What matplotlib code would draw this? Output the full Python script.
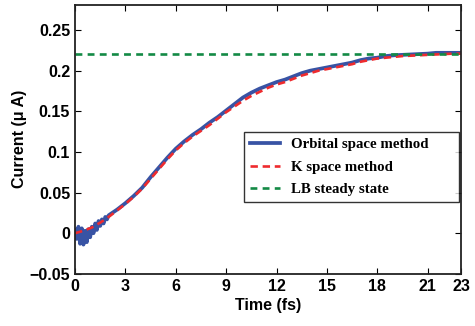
import numpy as np
import matplotlib
matplotlib.use('Agg')
import matplotlib.pyplot as plt

# orbital space method (noisy at the start)
t_orb = [0.0, 0.1, 0.2, 0.3, 0.4, 0.5, 0.6, 0.7, 0.8, 0.9,
         1.0, 1.1, 1.2, 1.3, 1.4, 1.5, 1.6, 1.7, 1.8, 1.9,
         2.0, 2.5, 3.0, 3.5, 4.0, 4.5, 5.0, 5.5, 6.0, 6.5,
         7.0, 7.5, 8.0, 8.5, 9.0, 9.5, 10.0, 10.5, 11.0, 11.5,
         12.0, 12.5, 13.0, 13.5, 14.0, 14.5, 15.0, 15.5, 16.0, 16.5,
         17.0, 17.5, 18.0, 18.5, 19.0, 19.5, 20.0, 20.5, 21.0, 21.5,
         22.0, 22.5, 23.0]
i_orb = [0.004, -0.007, 0.008, -0.013, 0.006, -0.014, 0.003, -0.011, 0.005, -0.005,
         0.008, 0.000, 0.012, 0.004, 0.015, 0.009, 0.017, 0.012, 0.020, 0.017,
         0.022, 0.029, 0.037, 0.046, 0.056, 0.069, 0.081, 0.093, 0.104, 0.113,
         0.121, 0.128, 0.136, 0.143, 0.151, 0.159, 0.167, 0.173, 0.178, 0.182,
         0.186, 0.189, 0.193, 0.197, 0.200, 0.202, 0.204, 0.206, 0.208, 0.210,
         0.213, 0.215, 0.216, 0.218, 0.219, 0.2195, 0.220, 0.2205, 0.221, 0.222,
         0.222, 0.222, 0.222]

# K space method
t_k = [0.0, 0.5, 1.0, 1.5, 2.0, 2.5, 3.0, 3.5, 4.0, 4.5,
       5.0, 5.5, 6.0, 6.5, 7.0, 7.5, 8.0, 8.5, 9.0, 9.5,
       10.0, 10.5, 11.0, 11.5, 12.0, 12.5, 13.0, 13.5, 14.0, 14.5,
       15.0, 15.5, 16.0, 16.5, 17.0, 17.5, 18.0, 18.5, 19.0, 19.5,
       20.0, 20.5, 21.0, 21.5, 22.0, 22.5, 23.0]
i_k = [0.000, 0.003, 0.007, 0.013, 0.020, 0.028, 0.036, 0.045, 0.055, 0.067,
       0.079, 0.091, 0.102, 0.111, 0.119, 0.126, 0.133, 0.141, 0.149, 0.156,
       0.163, 0.169, 0.174, 0.179, 0.183, 0.186, 0.190, 0.194, 0.197, 0.200,
       0.202, 0.204, 0.206, 0.208, 0.211, 0.213, 0.215, 0.216, 0.217, 0.218,
       0.2185, 0.219, 0.2195, 0.220, 0.2205, 0.221, 0.221]

lb_steady = 0.22

xticks = [0, 3, 6, 9, 12, 15, 18, 21, 23]
yticks = [-0.05, 0, 0.05, 0.1, 0.15, 0.2, 0.25]
ytick_labels = ['\u22120.05', '0', '0.05', '0.1', '0.15', '0.2', '0.25']

plt.rcParams['font.family'] = 'Liberation Sans'
plt.rcParams['font.weight'] = 'bold'

fig = plt.figure(figsize=(4.75, 3.26), dpi=100)
ax = fig.add_axes([0.158, 0.16, 0.813, 0.825])

l1, = ax.plot(t_orb, i_orb, color='#3853a4', lw=2.7, label='Orbital space method')
l2, = ax.plot(t_k, i_k, color='#ee2b2e', lw=1.9, ls=(0, (2.8, 1.8)), label='K space method')
l3 = ax.axhline(lb_steady, color='#138a45', lw=1.9, ls=(0, (2.6, 2.0)), label='LB steady state')

ax.set_xlim(0, 23)
ax.set_ylim(-0.05, 0.281)
ax.set_xticks(xticks)
ax.set_yticks(yticks)
ax.set_yticklabels(ytick_labels)
ax.tick_params(direction='in', top=True, right=True, labelsize=11.5, length=4, width=0.8)
for lab in ax.get_xticklabels() + ax.get_yticklabels():
    lab.set_fontweight('bold')
for s in ax.spines.values():
    s.set_linewidth(1.3)
    s.set_color('#222222')

ax.set_xlabel('Time (fs)', fontsize=11.5, fontweight='bold', labelpad=3)
ax.set_ylabel('Current (\u03bc A)', fontsize=11.5, fontweight='bold', labelpad=2)

# legend box is wider than its text in the original, so expand it
leg = ax.legend(loc='upper left', bbox_to_anchor=(0.438, 0.0, 0.557, 0.528),
                mode='expand',
                prop={'family': 'Liberation Serif', 'weight': 'bold', 'size': 10.7},
                frameon=True, fancybox=False, edgecolor='black',
                handlelength=2.0, handletextpad=0.75, labelspacing=0.62,
                borderpad=0.4, borderaxespad=0)
leg.get_frame().set_linewidth(1.0)

fig.savefig('out.png', dpi=100)
